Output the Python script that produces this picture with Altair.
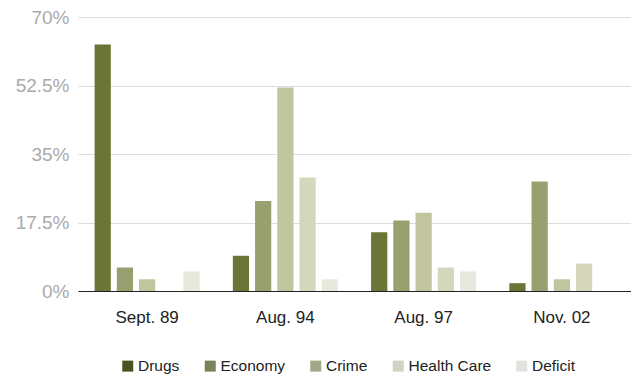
import altair as alt
import pandas as pd

periods = ["Sept. 89", "Aug. 94", "Aug. 97", "Nov. 02"]
issues = ["Drugs", "Economy", "Crime", "Health Care", "Deficit"]
drugs = [63, 9, 15, 2]
economy = [6, 23, 18, 28]
crime = [3, 52, 20, 3]
health_care = [0, 29, 6, 7]
deficit = [5, 3, 5, 0]
bar_colors = ["#6b7536", "#99a06f", "#c0c5a0", "#d5d7bd", "#e8e9dc"]
legend_colors = ["#4b5420", "#7c8258", "#a2a78a", "#d0d2c4", "#e2e3dc"]
y_ticks = [0, 17.5, 35, 52.5, 70]

series = [drugs, economy, crime, health_care, deficit]
rows = []
for i, p in enumerate(periods):
    for issue, vals in zip(issues, series):
        rows.append({"period": p, "issue": issue, "value": vals[i]})
df = pd.DataFrame(rows)

FONT = "Liberation Sans"

x_enc = alt.X(
    "period:N",
    sort=periods,
    scale=alt.Scale(paddingInner=0.24, paddingOuter=0.12),
    axis=alt.Axis(
        title=None, labelAngle=0, ticks=False, domain=True, domainColor="#222222",
        domainWidth=1.2, labelFontSize=17, labelColor="#222222", labelFont=FONT,
        labelPadding=18,
    ),
)
xoff_enc = alt.XOffset(
    "issue:N", sort=issues, scale=alt.Scale(paddingInner=0.27, paddingOuter=0)
)
y_enc = alt.Y(
    "value:Q",
    scale=alt.Scale(domain=[0, 70], nice=False),
    axis=alt.Axis(
        values=y_ticks, labelExpr="datum.value + '%'", title=None, domain=False,
        ticks=False, gridColor="#dddddd", gridWidth=1.2, labelColor="#aaaaaa",
        labelFontSize=19, labelFont=FONT, labelPadding=9,
    ),
)

bars = alt.Chart(df).mark_bar().encode(
    x=x_enc,
    xOffset=xoff_enc,
    y=y_enc,
    color=alt.Color(
        "issue:N", sort=issues,
        scale=alt.Scale(domain=issues, range=bar_colors), legend=None,
    ),
)

legend_layer = alt.Chart(df).mark_bar().encode(
    x=x_enc,
    xOffset=xoff_enc,
    y=alt.value(274),
    y2=alt.value(274),
    color=alt.Color(
        "issue:N", sort=issues,
        scale=alt.Scale(domain=issues, range=legend_colors),
        legend=alt.Legend(
            title=None, orient="none", legendX=42, legendY=341,
            direction="horizontal", symbolType="square", symbolSize=121,
            symbolStrokeWidth=0, labelFontSize=15.5, labelColor="#222222",
            labelFont=FONT, columnPadding=22.5, labelOffset=2.5, padding=0,
        ),
    ),
)

chart = (
    alt.layer(bars, legend_layer)
    .resolve_scale(color="independent")
    .properties(
        width=553, height=274,
        padding={"left": 78, "top": 17, "right": 0, "bottom": 88},
        autosize=alt.AutoSizeParams(type="none"),
    )
    .configure_view(stroke=None)
)

chart.save("out.html", embed_options={"renderer": "svg", "actions": False})
